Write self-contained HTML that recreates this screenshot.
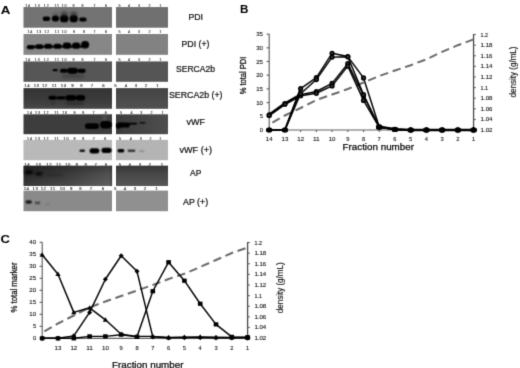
<!DOCTYPE html><html><head><meta charset="utf-8"><title>Figure</title>
<style>html,body{margin:0;padding:0;background:#fff;}body{width:520px;height:368px;overflow:hidden;}svg{display:block;font-family:"Liberation Sans",sans-serif;}</style></head><body>
<svg width="520" height="368" viewBox="0 0 520 368">
<defs>
<filter id="b1" filterUnits="userSpaceOnUse" x="0" y="0" width="520" height="368" color-interpolation-filters="sRGB"><feConvolveMatrix order="3" kernelMatrix="1 2 1 2 4 2 1 2 1" divisor="16" edgeMode="none" preserveAlpha="false"/></filter>
<filter id="b2" x="-40%" y="-80%" width="180%" height="260%"><feGaussianBlur stdDeviation="1.3"/></filter>
<filter id="bl" filterUnits="userSpaceOnUse" x="0" y="0" width="520" height="368" color-interpolation-filters="sRGB"><feConvolveMatrix order="3" kernelMatrix="0 1 0 1 4 1 0 1 0" divisor="8" edgeMode="none" preserveAlpha="false"/></filter>
<filter id="bt" filterUnits="userSpaceOnUse" x="0" y="0" width="520" height="368" color-interpolation-filters="sRGB"><feConvolveMatrix order="3" kernelMatrix="0 1 0 1 4 1 0 1 0" divisor="8" edgeMode="none" preserveAlpha="false"/></filter>
<filter id="bp" filterUnits="userSpaceOnUse" x="0" y="0" width="520" height="368" color-interpolation-filters="sRGB"><feConvolveMatrix order="3" kernelMatrix="0 1 0 1 4 1 0 1 0" divisor="8" edgeMode="none" preserveAlpha="false"/></filter>
<filter id="bc" filterUnits="userSpaceOnUse" x="0" y="0" width="520" height="368" color-interpolation-filters="sRGB"><feConvolveMatrix order="3" kernelMatrix="0 1 0 1 4 1 0 1 0" divisor="8" edgeMode="none" preserveAlpha="false"/></filter>
<linearGradient id="g4" x1="0" x2="0" y1="0" y2="1"><stop offset="0" stop-color="#343434"/><stop offset="0.6" stop-color="#3c3c3c"/><stop offset="1" stop-color="#494949"/></linearGradient>
<linearGradient id="g4r" x1="0" x2="0" y1="0" y2="1"><stop offset="0" stop-color="#444"/><stop offset="1" stop-color="#505050"/></linearGradient>
<linearGradient id="g5r" x1="0" x2="1" y1="0" y2="0"><stop offset="0" stop-color="#3c3c3c"/><stop offset="1" stop-color="#4e4e4e"/></linearGradient>
<linearGradient id="gv" x1="0" x2="0" y1="0" y2="1"><stop offset="0" stop-color="#000" stop-opacity="0.28"/><stop offset="0.45" stop-color="#000" stop-opacity="0.05"/><stop offset="1" stop-color="#fff" stop-opacity="0.07"/></linearGradient>
<linearGradient id="g7" x1="0" x2="1" y1="0" y2="0"><stop offset="0" stop-color="#2c2c2c"/><stop offset="0.5" stop-color="#3e3e3e"/><stop offset="1" stop-color="#585858"/></linearGradient>
</defs>
<rect width="520" height="368" fill="#fff"/>
<g filter="url(#bp)">
<rect x="23.5" y="7.05" width="88.5" height="20.65" fill="#737373"/>
<rect x="116" y="7.05" width="52" height="20.65" fill="#707070"/>
<rect x="23.5" y="34" width="88.5" height="20.799999999999997" fill="#878787"/>
<rect x="116" y="34" width="52" height="20.799999999999997" fill="#828282"/>
<rect x="23.5" y="61.4" width="88.5" height="20.4" fill="#565656"/>
<rect x="116" y="61.4" width="52" height="20.4" fill="#555555"/>
<rect x="23.5" y="88.1" width="88.5" height="20.700000000000003" fill="url(#g4)"/>
<rect x="116" y="88.1" width="52" height="20.700000000000003" fill="url(#g4r)"/>
<rect x="23.5" y="114.3" width="88.5" height="19.89999999999999" fill="#3d3d3d"/>
<rect x="116" y="114.3" width="52" height="19.89999999999999" fill="url(#g5r)"/>
<rect x="23.5" y="139.9" width="88.5" height="20.299999999999983" fill="#b9b9b9"/>
<rect x="116" y="139.9" width="52" height="20.299999999999983" fill="#b4b4b4"/>
<rect x="23.5" y="165.7" width="88.5" height="20.30000000000001" fill="url(#g7)"/>
<rect x="116" y="165.7" width="52" height="20.30000000000001" fill="#4c4c4c"/>
<rect x="23.5" y="190.6" width="88.5" height="20.599999999999994" fill="#8a8a8a"/>
<rect x="116" y="190.6" width="52" height="20.599999999999994" fill="#909090"/>
<rect x="23.5" y="165.7" width="88.5" height="20.3" fill="url(#gv)"/>
<rect x="116" y="165.7" width="52" height="20.3" fill="url(#gv)"/>
</g>
<g filter="url(#b1)">
<rect x="42.65" y="16.60" width="7.50" height="4.40" rx="2.20" ry="2.20" fill="#000" opacity="1"/>
<rect x="51.85" y="15.50" width="7.20" height="6.00" rx="3.00" ry="3.00" fill="#000" opacity="1"/>
<rect x="59.95" y="15.05" width="8.50" height="7.30" rx="3.65" ry="3.65" fill="#000" opacity="1"/>
<rect x="60.80" y="11.50" width="7.00" height="5.50" rx="2.75" ry="2.75" fill="#222" opacity="0.6" filter="url(#b2)"/>
<rect x="69.55" y="15.05" width="8.30" height="7.30" rx="3.65" ry="3.65" fill="#000" opacity="1"/>
<rect x="70.20" y="11.50" width="7.10" height="5.50" rx="2.75" ry="2.75" fill="#222" opacity="0.6" filter="url(#b2)"/>
<rect x="52.50" y="12.50" width="6.00" height="4.00" rx="2.00" ry="2.00" fill="#333" opacity="0.35" filter="url(#b2)"/>
<rect x="79.15" y="17.50" width="7.40" height="4.00" rx="2.00" ry="2.00" fill="#000" opacity="1"/>
<rect x="26.75" y="45.00" width="7.90" height="4.30" rx="2.15" ry="2.15" fill="#000" opacity="1"/>
<rect x="35.15" y="44.30" width="8.20" height="4.80" rx="2.40" ry="2.40" fill="#000" opacity="1"/>
<rect x="44.15" y="43.70" width="8.10" height="5.10" rx="2.55" ry="2.55" fill="#000" opacity="1"/>
<rect x="53.45" y="43.70" width="8.10" height="5.10" rx="2.55" ry="2.55" fill="#000" opacity="1"/>
<rect x="62.75" y="42.60" width="8.50" height="6.20" rx="3.10" ry="3.10" fill="#000" opacity="1"/>
<rect x="72.05" y="42.60" width="8.20" height="6.20" rx="3.10" ry="3.10" fill="#000" opacity="1"/>
<rect x="81.05" y="41.00" width="8.10" height="7.50" rx="3.75" ry="3.75" fill="#000" opacity="1"/>
<rect x="29.95" y="45.80" width="56.10" height="2.00" rx="1.00" ry="1.00" fill="#000" opacity="1"/>
<rect x="52.55" y="69.00" width="5.30" height="2.20" rx="1.10" ry="1.10" fill="#000" opacity="1"/>
<rect x="59.95" y="68.70" width="7.70" height="4.00" rx="2.00" ry="2.00" fill="#000" opacity="1"/>
<rect x="67.15" y="67.80" width="10.70" height="5.90" rx="2.95" ry="2.95" fill="#000" opacity="1"/>
<rect x="77.35" y="68.70" width="8.40" height="4.30" rx="2.15" ry="2.15" fill="#000" opacity="1"/>
<rect x="62.00" y="74.50" width="22.00" height="3.50" rx="1.75" ry="1.75" fill="#222" opacity="0.35" filter="url(#b2)"/>
<rect x="48.45" y="95.70" width="8.20" height="4.00" rx="2.00" ry="2.00" fill="#000" opacity="1"/>
<rect x="56.45" y="96.30" width="9.10" height="3.10" rx="1.55" ry="1.55" fill="#000" opacity="1"/>
<rect x="65.45" y="95.00" width="10.80" height="5.60" rx="2.80" ry="2.80" fill="#000" opacity="1"/>
<rect x="75.95" y="95.00" width="9.20" height="5.60" rx="2.80" ry="2.80" fill="#000" opacity="1"/>
<rect x="50.00" y="102.00" width="6.00" height="2.00" rx="1.00" ry="1.00" fill="#111" opacity="0.35" filter="url(#b2)"/>
<rect x="66.00" y="102.00" width="18.00" height="2.30" rx="1.15" ry="1.15" fill="#111" opacity="0.45" filter="url(#b2)"/>
<rect x="102.5" y="114.3" width="4" height="8" fill="#5a5a5a" opacity="0.6" filter="url(#b2)"/>
<rect x="84.95" y="123.20" width="14.10" height="5.70" rx="2.85" ry="2.85" fill="#000" opacity="1"/>
<rect x="100.15" y="121.10" width="11.50" height="7.40" rx="3.70" ry="3.70" fill="#000" opacity="1"/>
<rect x="116.25" y="122.40" width="13.60" height="5.10" rx="2.55" ry="2.55" fill="#000" opacity="1"/>
<rect x="116.25" y="124.00" width="4.80" height="4.80" rx="2.40" ry="2.40" fill="#000" opacity="1"/>
<rect x="127.95" y="122.80" width="9.10" height="1.80" rx="0.90" ry="0.90" fill="#000" opacity="1"/>
<rect x="139.45" y="122.00" width="6.10" height="1.50" rx="0.75" ry="0.75" fill="#000" opacity="0.85"/>
<rect x="79.45" y="149.50" width="5.60" height="2.60" rx="1.30" ry="1.30" fill="#000" opacity="0.9"/>
<rect x="89.55" y="148.20" width="9.80" height="5.20" rx="2.60" ry="2.60" fill="#000" opacity="1"/>
<rect x="101.45" y="147.80" width="10.20" height="5.10" rx="2.55" ry="2.55" fill="#000" opacity="1"/>
<rect x="117.45" y="149.00" width="6.90" height="3.40" rx="1.70" ry="1.70" fill="#000" opacity="1"/>
<rect x="127.65" y="149.50" width="7.70" height="2.60" rx="1.30" ry="1.30" fill="#222" opacity="0.85"/>
<rect x="138.95" y="150.00" width="5.70" height="2.20" rx="1.10" ry="1.10" fill="#555" opacity="0.3"/>
<rect x="25.00" y="170.30" width="8.00" height="3.90" rx="1.95" ry="1.95" fill="#000" opacity="0.95" filter="url(#b2)"/>
<rect x="35.20" y="172.00" width="7.60" height="3.50" rx="1.75" ry="1.75" fill="#000" opacity="0.85" filter="url(#b2)"/>
<rect x="46.00" y="174.00" width="16.00" height="2.00" rx="1.00" ry="1.00" fill="#000" opacity="0.25" filter="url(#b2)"/>
<rect x="110.5" y="165.7" width="1.5" height="20.3" fill="#1c1c1c" opacity="0.35"/>
<rect x="25.45" y="200.30" width="6.40" height="3.50" rx="1.75" ry="1.75" fill="#1a1a1a" opacity="0.95"/>
<rect x="34.75" y="201.60" width="5.60" height="2.60" rx="1.30" ry="1.30" fill="#333" opacity="0.7"/>
<rect x="44.95" y="203.50" width="5.10" height="2.00" rx="1.00" ry="1.00" fill="#444" opacity="0.2"/>
</g>
<g filter="url(#bl)">
<text x="28.03" y="6.50" font-size="3.6" text-anchor="middle" letter-spacing="0.85" fill="#2a2a2a" stroke="#2a2a2a" stroke-width="0.1">14</text>
<text x="37.72" y="6.50" font-size="3.6" text-anchor="middle" letter-spacing="0.85" fill="#2a2a2a" stroke="#2a2a2a" stroke-width="0.1">13</text>
<text x="46.72" y="6.50" font-size="3.6" text-anchor="middle" letter-spacing="0.85" fill="#2a2a2a" stroke="#2a2a2a" stroke-width="0.1">12</text>
<text x="57.12" y="6.50" font-size="3.6" text-anchor="middle" letter-spacing="0.85" fill="#2a2a2a" stroke="#2a2a2a" stroke-width="0.1">11</text>
<text x="64.62" y="6.50" font-size="3.6" text-anchor="middle" letter-spacing="0.85" fill="#2a2a2a" stroke="#2a2a2a" stroke-width="0.1">10</text>
<text x="73.50" y="6.50" font-size="3.6" text-anchor="middle" letter-spacing="0" fill="#2a2a2a" stroke="#2a2a2a" stroke-width="0.1">9</text>
<text x="82.50" y="6.50" font-size="3.6" text-anchor="middle" letter-spacing="0" fill="#2a2a2a" stroke="#2a2a2a" stroke-width="0.1">8</text>
<text x="94.50" y="6.50" font-size="3.6" text-anchor="middle" letter-spacing="0" fill="#2a2a2a" stroke="#2a2a2a" stroke-width="0.1">7</text>
<text x="106.00" y="6.50" font-size="3.6" text-anchor="middle" letter-spacing="0" fill="#2a2a2a" stroke="#2a2a2a" stroke-width="0.1">6</text>
<text x="119.50" y="6.50" font-size="3.6" text-anchor="middle" letter-spacing="0" fill="#2a2a2a" stroke="#2a2a2a" stroke-width="0.1">5</text>
<text x="129.00" y="6.50" font-size="3.6" text-anchor="middle" letter-spacing="0" fill="#2a2a2a" stroke="#2a2a2a" stroke-width="0.1">4</text>
<text x="139.00" y="6.50" font-size="3.6" text-anchor="middle" letter-spacing="0" fill="#2a2a2a" stroke="#2a2a2a" stroke-width="0.1">3</text>
<text x="149.50" y="6.50" font-size="3.6" text-anchor="middle" letter-spacing="0" fill="#2a2a2a" stroke="#2a2a2a" stroke-width="0.1">2</text>
<text x="160.50" y="6.50" font-size="3.6" text-anchor="middle" letter-spacing="0" fill="#2a2a2a" stroke="#2a2a2a" stroke-width="0.1">1</text>
<text x="30.32" y="33.30" font-size="3.6" text-anchor="middle" letter-spacing="0.85" fill="#2a2a2a" stroke="#2a2a2a" stroke-width="0.1">14</text>
<text x="39.32" y="33.30" font-size="3.6" text-anchor="middle" letter-spacing="0.85" fill="#2a2a2a" stroke="#2a2a2a" stroke-width="0.1">13</text>
<text x="47.22" y="33.30" font-size="3.6" text-anchor="middle" letter-spacing="0.85" fill="#2a2a2a" stroke="#2a2a2a" stroke-width="0.1">12</text>
<text x="57.42" y="33.30" font-size="3.6" text-anchor="middle" letter-spacing="0.85" fill="#2a2a2a" stroke="#2a2a2a" stroke-width="0.1">11</text>
<text x="64.62" y="33.30" font-size="3.6" text-anchor="middle" letter-spacing="0.85" fill="#2a2a2a" stroke="#2a2a2a" stroke-width="0.1">10</text>
<text x="74.00" y="33.30" font-size="3.6" text-anchor="middle" letter-spacing="0" fill="#2a2a2a" stroke="#2a2a2a" stroke-width="0.1">9</text>
<text x="84.00" y="33.30" font-size="3.6" text-anchor="middle" letter-spacing="0" fill="#2a2a2a" stroke="#2a2a2a" stroke-width="0.1">8</text>
<text x="94.50" y="33.30" font-size="3.6" text-anchor="middle" letter-spacing="0" fill="#2a2a2a" stroke="#2a2a2a" stroke-width="0.1">7</text>
<text x="106.00" y="33.30" font-size="3.6" text-anchor="middle" letter-spacing="0" fill="#2a2a2a" stroke="#2a2a2a" stroke-width="0.1">6</text>
<text x="119.50" y="33.30" font-size="3.6" text-anchor="middle" letter-spacing="0" fill="#2a2a2a" stroke="#2a2a2a" stroke-width="0.1">5</text>
<text x="129.00" y="33.30" font-size="3.6" text-anchor="middle" letter-spacing="0" fill="#2a2a2a" stroke="#2a2a2a" stroke-width="0.1">4</text>
<text x="139.00" y="33.30" font-size="3.6" text-anchor="middle" letter-spacing="0" fill="#2a2a2a" stroke="#2a2a2a" stroke-width="0.1">3</text>
<text x="149.50" y="33.30" font-size="3.6" text-anchor="middle" letter-spacing="0" fill="#2a2a2a" stroke="#2a2a2a" stroke-width="0.1">2</text>
<text x="160.50" y="33.30" font-size="3.6" text-anchor="middle" letter-spacing="0" fill="#2a2a2a" stroke="#2a2a2a" stroke-width="0.1">1</text>
<text x="28.03" y="60.90" font-size="3.6" text-anchor="middle" letter-spacing="0.85" fill="#2a2a2a" stroke="#2a2a2a" stroke-width="0.1">14</text>
<text x="37.72" y="60.90" font-size="3.6" text-anchor="middle" letter-spacing="0.85" fill="#2a2a2a" stroke="#2a2a2a" stroke-width="0.1">13</text>
<text x="46.72" y="60.90" font-size="3.6" text-anchor="middle" letter-spacing="0.85" fill="#2a2a2a" stroke="#2a2a2a" stroke-width="0.1">12</text>
<text x="57.12" y="60.90" font-size="3.6" text-anchor="middle" letter-spacing="0.85" fill="#2a2a2a" stroke="#2a2a2a" stroke-width="0.1">11</text>
<text x="64.62" y="60.90" font-size="3.6" text-anchor="middle" letter-spacing="0.85" fill="#2a2a2a" stroke="#2a2a2a" stroke-width="0.1">10</text>
<text x="73.50" y="60.90" font-size="3.6" text-anchor="middle" letter-spacing="0" fill="#2a2a2a" stroke="#2a2a2a" stroke-width="0.1">9</text>
<text x="82.50" y="60.90" font-size="3.6" text-anchor="middle" letter-spacing="0" fill="#2a2a2a" stroke="#2a2a2a" stroke-width="0.1">8</text>
<text x="94.50" y="60.90" font-size="3.6" text-anchor="middle" letter-spacing="0" fill="#2a2a2a" stroke="#2a2a2a" stroke-width="0.1">7</text>
<text x="106.00" y="60.90" font-size="3.6" text-anchor="middle" letter-spacing="0" fill="#2a2a2a" stroke="#2a2a2a" stroke-width="0.1">6</text>
<text x="119.50" y="60.90" font-size="3.6" text-anchor="middle" letter-spacing="0" fill="#2a2a2a" stroke="#2a2a2a" stroke-width="0.1">5</text>
<text x="129.00" y="60.90" font-size="3.6" text-anchor="middle" letter-spacing="0" fill="#2a2a2a" stroke="#2a2a2a" stroke-width="0.1">4</text>
<text x="139.00" y="60.90" font-size="3.6" text-anchor="middle" letter-spacing="0" fill="#2a2a2a" stroke="#2a2a2a" stroke-width="0.1">3</text>
<text x="149.50" y="60.90" font-size="3.6" text-anchor="middle" letter-spacing="0" fill="#2a2a2a" stroke="#2a2a2a" stroke-width="0.1">2</text>
<text x="160.50" y="60.90" font-size="3.6" text-anchor="middle" letter-spacing="0" fill="#2a2a2a" stroke="#2a2a2a" stroke-width="0.1">1</text>
<text x="27.15" y="86.85" font-size="4.3" text-anchor="middle" letter-spacing="0.5" fill="#1a1a1a" stroke="#1a1a1a" stroke-width="0.1">14</text>
<text x="36.55" y="86.85" font-size="4.3" text-anchor="middle" letter-spacing="0.5" fill="#1a1a1a" stroke="#1a1a1a" stroke-width="0.1">13</text>
<text x="44.85" y="86.85" font-size="4.3" text-anchor="middle" letter-spacing="0.5" fill="#1a1a1a" stroke="#1a1a1a" stroke-width="0.1">12</text>
<text x="54.45" y="86.85" font-size="4.3" text-anchor="middle" letter-spacing="0.5" fill="#1a1a1a" stroke="#1a1a1a" stroke-width="0.1">11</text>
<text x="63.75" y="86.85" font-size="4.3" text-anchor="middle" letter-spacing="0.5" fill="#1a1a1a" stroke="#1a1a1a" stroke-width="0.1">10</text>
<text x="72.50" y="86.85" font-size="4.3" text-anchor="middle" letter-spacing="0" fill="#1a1a1a" stroke="#1a1a1a" stroke-width="0.1">9</text>
<text x="81.50" y="86.85" font-size="4.3" text-anchor="middle" letter-spacing="0" fill="#1a1a1a" stroke="#1a1a1a" stroke-width="0.1">8</text>
<text x="92.00" y="86.85" font-size="4.3" text-anchor="middle" letter-spacing="0" fill="#1a1a1a" stroke="#1a1a1a" stroke-width="0.1">7</text>
<text x="103.50" y="86.85" font-size="4.3" text-anchor="middle" letter-spacing="0" fill="#1a1a1a" stroke="#1a1a1a" stroke-width="0.1">6</text>
<text x="115.50" y="86.85" font-size="4.3" text-anchor="middle" letter-spacing="0" fill="#1a1a1a" stroke="#1a1a1a" stroke-width="0.1">5</text>
<text x="126.00" y="86.85" font-size="4.3" text-anchor="middle" letter-spacing="0" fill="#1a1a1a" stroke="#1a1a1a" stroke-width="0.1">4</text>
<text x="136.00" y="86.85" font-size="4.3" text-anchor="middle" letter-spacing="0" fill="#1a1a1a" stroke="#1a1a1a" stroke-width="0.1">3</text>
<text x="146.00" y="86.85" font-size="4.3" text-anchor="middle" letter-spacing="0" fill="#1a1a1a" stroke="#1a1a1a" stroke-width="0.1">2</text>
<text x="157.50" y="86.85" font-size="4.3" text-anchor="middle" letter-spacing="0" fill="#1a1a1a" stroke="#1a1a1a" stroke-width="0.1">1</text>
<text x="29.93" y="113.80" font-size="3.6" text-anchor="middle" letter-spacing="0.85" fill="#1a1a1a" stroke="#1a1a1a" stroke-width="0.1">14</text>
<text x="37.92" y="113.80" font-size="3.6" text-anchor="middle" letter-spacing="0.85" fill="#1a1a1a" stroke="#1a1a1a" stroke-width="0.1">13</text>
<text x="46.42" y="113.80" font-size="3.6" text-anchor="middle" letter-spacing="0.85" fill="#1a1a1a" stroke="#1a1a1a" stroke-width="0.1">12</text>
<text x="56.92" y="113.80" font-size="3.6" text-anchor="middle" letter-spacing="0.85" fill="#1a1a1a" stroke="#1a1a1a" stroke-width="0.1">11</text>
<text x="65.02" y="113.80" font-size="3.6" text-anchor="middle" letter-spacing="0.85" fill="#1a1a1a" stroke="#1a1a1a" stroke-width="0.1">10</text>
<text x="74.40" y="113.80" font-size="3.6" text-anchor="middle" letter-spacing="0" fill="#1a1a1a" stroke="#1a1a1a" stroke-width="0.1">9</text>
<text x="83.30" y="113.80" font-size="3.6" text-anchor="middle" letter-spacing="0" fill="#1a1a1a" stroke="#1a1a1a" stroke-width="0.1">8</text>
<text x="93.40" y="113.80" font-size="3.6" text-anchor="middle" letter-spacing="0" fill="#1a1a1a" stroke="#1a1a1a" stroke-width="0.1">7</text>
<text x="105.70" y="113.80" font-size="3.6" text-anchor="middle" letter-spacing="0" fill="#1a1a1a" stroke="#1a1a1a" stroke-width="0.1">6</text>
<text x="121.00" y="113.80" font-size="3.6" text-anchor="middle" letter-spacing="0" fill="#1a1a1a" stroke="#1a1a1a" stroke-width="0.1">5</text>
<text x="131.50" y="113.80" font-size="3.6" text-anchor="middle" letter-spacing="0" fill="#1a1a1a" stroke="#1a1a1a" stroke-width="0.1">4</text>
<text x="141.20" y="113.80" font-size="3.6" text-anchor="middle" letter-spacing="0" fill="#1a1a1a" stroke="#1a1a1a" stroke-width="0.1">3</text>
<text x="151.40" y="113.80" font-size="3.6" text-anchor="middle" letter-spacing="0" fill="#1a1a1a" stroke="#1a1a1a" stroke-width="0.1">2</text>
<text x="162.80" y="113.80" font-size="3.6" text-anchor="middle" letter-spacing="0" fill="#1a1a1a" stroke="#1a1a1a" stroke-width="0.1">1</text>
<text x="29.93" y="139.80" font-size="3.6" text-anchor="middle" letter-spacing="0.85" fill="#1a1a1a" stroke="#1a1a1a" stroke-width="0.1">14</text>
<text x="37.92" y="139.80" font-size="3.6" text-anchor="middle" letter-spacing="0.85" fill="#1a1a1a" stroke="#1a1a1a" stroke-width="0.1">13</text>
<text x="46.42" y="139.80" font-size="3.6" text-anchor="middle" letter-spacing="0.85" fill="#1a1a1a" stroke="#1a1a1a" stroke-width="0.1">12</text>
<text x="56.92" y="139.80" font-size="3.6" text-anchor="middle" letter-spacing="0.85" fill="#1a1a1a" stroke="#1a1a1a" stroke-width="0.1">11</text>
<text x="66.42" y="139.80" font-size="3.6" text-anchor="middle" letter-spacing="0.85" fill="#1a1a1a" stroke="#1a1a1a" stroke-width="0.1">10</text>
<text x="74.40" y="139.80" font-size="3.6" text-anchor="middle" letter-spacing="0" fill="#1a1a1a" stroke="#1a1a1a" stroke-width="0.1">9</text>
<text x="83.30" y="139.80" font-size="3.6" text-anchor="middle" letter-spacing="0" fill="#1a1a1a" stroke="#1a1a1a" stroke-width="0.1">8</text>
<text x="93.80" y="139.80" font-size="3.6" text-anchor="middle" letter-spacing="0" fill="#1a1a1a" stroke="#1a1a1a" stroke-width="0.1">7</text>
<text x="105.30" y="139.80" font-size="3.6" text-anchor="middle" letter-spacing="0" fill="#1a1a1a" stroke="#1a1a1a" stroke-width="0.1">6</text>
<text x="120.00" y="139.80" font-size="3.6" text-anchor="middle" letter-spacing="0" fill="#1a1a1a" stroke="#1a1a1a" stroke-width="0.1">5</text>
<text x="130.70" y="139.80" font-size="3.6" text-anchor="middle" letter-spacing="0" fill="#1a1a1a" stroke="#1a1a1a" stroke-width="0.1">4</text>
<text x="140.80" y="139.80" font-size="3.6" text-anchor="middle" letter-spacing="0" fill="#1a1a1a" stroke="#1a1a1a" stroke-width="0.1">3</text>
<text x="150.50" y="139.80" font-size="3.6" text-anchor="middle" letter-spacing="0" fill="#1a1a1a" stroke="#1a1a1a" stroke-width="0.1">2</text>
<text x="160.30" y="139.80" font-size="3.6" text-anchor="middle" letter-spacing="0" fill="#1a1a1a" stroke="#1a1a1a" stroke-width="0.1">1</text>
<text x="27.35" y="165.75" font-size="4.3" text-anchor="middle" letter-spacing="0.5" fill="#1a1a1a" stroke="#1a1a1a" stroke-width="0.1">14</text>
<text x="38.55" y="165.75" font-size="4.3" text-anchor="middle" letter-spacing="0.5" fill="#1a1a1a" stroke="#1a1a1a" stroke-width="0.1">13</text>
<text x="49.25" y="165.75" font-size="4.3" text-anchor="middle" letter-spacing="0.5" fill="#1a1a1a" stroke="#1a1a1a" stroke-width="0.1">12</text>
<text x="58.85" y="165.75" font-size="4.3" text-anchor="middle" letter-spacing="0.5" fill="#1a1a1a" stroke="#1a1a1a" stroke-width="0.1">11</text>
<text x="68.05" y="165.75" font-size="4.3" text-anchor="middle" letter-spacing="0.5" fill="#1a1a1a" stroke="#1a1a1a" stroke-width="0.1">10</text>
<text x="76.70" y="165.75" font-size="4.3" text-anchor="middle" letter-spacing="0" fill="#1a1a1a" stroke="#1a1a1a" stroke-width="0.1">9</text>
<text x="85.60" y="165.75" font-size="4.3" text-anchor="middle" letter-spacing="0" fill="#1a1a1a" stroke="#1a1a1a" stroke-width="0.1">8</text>
<text x="95.70" y="165.75" font-size="4.3" text-anchor="middle" letter-spacing="0" fill="#1a1a1a" stroke="#1a1a1a" stroke-width="0.1">7</text>
<text x="105.90" y="165.75" font-size="4.3" text-anchor="middle" letter-spacing="0" fill="#1a1a1a" stroke="#1a1a1a" stroke-width="0.1">6</text>
<text x="120.00" y="165.75" font-size="4.3" text-anchor="middle" letter-spacing="0" fill="#1a1a1a" stroke="#1a1a1a" stroke-width="0.1">5</text>
<text x="129.80" y="165.75" font-size="4.3" text-anchor="middle" letter-spacing="0" fill="#1a1a1a" stroke="#1a1a1a" stroke-width="0.1">4</text>
<text x="140.00" y="165.75" font-size="4.3" text-anchor="middle" letter-spacing="0" fill="#1a1a1a" stroke="#1a1a1a" stroke-width="0.1">3</text>
<text x="149.70" y="165.75" font-size="4.3" text-anchor="middle" letter-spacing="0" fill="#1a1a1a" stroke="#1a1a1a" stroke-width="0.1">2</text>
<text x="162.00" y="165.75" font-size="4.3" text-anchor="middle" letter-spacing="0" fill="#1a1a1a" stroke="#1a1a1a" stroke-width="0.1">1</text>
<text x="26.55" y="190.05" font-size="4.3" text-anchor="middle" letter-spacing="0.5" fill="#1a1a1a" stroke="#1a1a1a" stroke-width="0.1">14</text>
<text x="35.45" y="190.05" font-size="4.3" text-anchor="middle" letter-spacing="0.5" fill="#1a1a1a" stroke="#1a1a1a" stroke-width="0.1">13</text>
<text x="43.55" y="190.05" font-size="4.3" text-anchor="middle" letter-spacing="0.5" fill="#1a1a1a" stroke="#1a1a1a" stroke-width="0.1">12</text>
<text x="52.85" y="190.05" font-size="4.3" text-anchor="middle" letter-spacing="0.5" fill="#1a1a1a" stroke="#1a1a1a" stroke-width="0.1">11</text>
<text x="62.55" y="190.05" font-size="4.3" text-anchor="middle" letter-spacing="0.5" fill="#1a1a1a" stroke="#1a1a1a" stroke-width="0.1">10</text>
<text x="71.20" y="190.05" font-size="4.3" text-anchor="middle" letter-spacing="0" fill="#1a1a1a" stroke="#1a1a1a" stroke-width="0.1">9</text>
<text x="80.50" y="190.05" font-size="4.3" text-anchor="middle" letter-spacing="0" fill="#1a1a1a" stroke="#1a1a1a" stroke-width="0.1">8</text>
<text x="91.00" y="190.05" font-size="4.3" text-anchor="middle" letter-spacing="0" fill="#1a1a1a" stroke="#1a1a1a" stroke-width="0.1">7</text>
<text x="103.00" y="190.05" font-size="4.3" text-anchor="middle" letter-spacing="0" fill="#1a1a1a" stroke="#1a1a1a" stroke-width="0.1">6</text>
<text x="115.20" y="190.05" font-size="4.3" text-anchor="middle" letter-spacing="0" fill="#1a1a1a" stroke="#1a1a1a" stroke-width="0.1">5</text>
<text x="125.00" y="190.05" font-size="4.3" text-anchor="middle" letter-spacing="0" fill="#1a1a1a" stroke="#1a1a1a" stroke-width="0.1">4</text>
<text x="135.00" y="190.05" font-size="4.3" text-anchor="middle" letter-spacing="0" fill="#1a1a1a" stroke="#1a1a1a" stroke-width="0.1">3</text>
<text x="145.00" y="190.05" font-size="4.3" text-anchor="middle" letter-spacing="0" fill="#1a1a1a" stroke="#1a1a1a" stroke-width="0.1">2</text>
<text x="156.50" y="190.05" font-size="4.3" text-anchor="middle" letter-spacing="0" fill="#1a1a1a" stroke="#1a1a1a" stroke-width="0.1">1</text>
</g>
<g filter="url(#bt)">
<text x="188.5" y="19.99" font-size="8.3" textLength="14.5" lengthAdjust="spacingAndGlyphs" fill="#111" stroke="#111" stroke-width="0.22">PDI</text>
<text x="181.5" y="46.69" font-size="8.3" textLength="28.0" lengthAdjust="spacingAndGlyphs" fill="#111" stroke="#111" stroke-width="0.22">PDI (+)</text>
<text x="176" y="71.69" font-size="8.3" textLength="39" lengthAdjust="spacingAndGlyphs" fill="#111" stroke="#111" stroke-width="0.22">SERCA2b</text>
<text x="169" y="98.19" font-size="8.3" textLength="53.5" lengthAdjust="spacingAndGlyphs" fill="#111" stroke="#111" stroke-width="0.22">SERCA2b (+)</text>
<text x="186.5" y="124.69" font-size="8.3" textLength="18.5" lengthAdjust="spacingAndGlyphs" fill="#111" stroke="#111" stroke-width="0.22">vWF</text>
<text x="179.5" y="153.19" font-size="8.3" textLength="32.5" lengthAdjust="spacingAndGlyphs" fill="#111" stroke="#111" stroke-width="0.22">vWF (+)</text>
<text x="190" y="176.19" font-size="8.3" textLength="11.300000000000011" lengthAdjust="spacingAndGlyphs" fill="#111" stroke="#111" stroke-width="0.22">AP</text>
<text x="183" y="204.69" font-size="8.3" textLength="25.19999999999999" lengthAdjust="spacingAndGlyphs" fill="#111" stroke="#111" stroke-width="0.22">AP (+)</text>
<text x="0.8" y="13.5" font-size="11.6" font-weight="bold" textLength="9.6" lengthAdjust="spacingAndGlyphs" fill="#000">A</text>
<text x="240.0" y="12.9" font-size="11.6" font-weight="bold" textLength="8.4" lengthAdjust="spacingAndGlyphs" fill="#000">B</text>
<text x="0.4" y="242.5" font-size="11.6" font-weight="bold" textLength="9.5" lengthAdjust="spacingAndGlyphs" fill="#000">C</text>
</g>
<g filter="url(#bc)">
<g stroke="#606060" stroke-width="1.15" fill="none">
<line x1="269.2" y1="34.10000000000001" x2="269.2" y2="130.0"/>
<line x1="269.2" y1="130.0" x2="473.56" y2="130.0"/>
<line x1="473.56" y1="34" x2="473.56" y2="130.0" stroke="#4a4a4a" stroke-width="1.3"/>
<line x1="266.59999999999997" y1="130.00" x2="269.2" y2="130.00"/>
<line x1="266.59999999999997" y1="116.30" x2="269.2" y2="116.30"/>
<line x1="266.59999999999997" y1="102.60" x2="269.2" y2="102.60"/>
<line x1="266.59999999999997" y1="88.90" x2="269.2" y2="88.90"/>
<line x1="266.59999999999997" y1="75.20" x2="269.2" y2="75.20"/>
<line x1="266.59999999999997" y1="61.50" x2="269.2" y2="61.50"/>
<line x1="266.59999999999997" y1="47.80" x2="269.2" y2="47.80"/>
<line x1="266.59999999999997" y1="34.10" x2="269.2" y2="34.10"/>
<line x1="473.56" y1="130.0" x2="473.56" y2="132.0"/>
<line x1="457.84" y1="130.0" x2="457.84" y2="132.0"/>
<line x1="442.12" y1="130.0" x2="442.12" y2="132.0"/>
<line x1="426.40" y1="130.0" x2="426.40" y2="132.0"/>
<line x1="410.68" y1="130.0" x2="410.68" y2="132.0"/>
<line x1="394.96" y1="130.0" x2="394.96" y2="132.0"/>
<line x1="379.24" y1="130.0" x2="379.24" y2="132.0"/>
<line x1="363.52" y1="130.0" x2="363.52" y2="132.0"/>
<line x1="347.80" y1="130.0" x2="347.80" y2="132.0"/>
<line x1="332.08" y1="130.0" x2="332.08" y2="132.0"/>
<line x1="316.36" y1="130.0" x2="316.36" y2="132.0"/>
<line x1="300.64" y1="130.0" x2="300.64" y2="132.0"/>
<line x1="284.92" y1="130.0" x2="284.92" y2="132.0"/>
<line x1="269.20" y1="130.0" x2="269.20" y2="132.0"/>
<line x1="473.56" y1="34.50" x2="475.76" y2="34.50"/>
<line x1="473.56" y1="45.12" x2="475.76" y2="45.12"/>
<line x1="473.56" y1="55.74" x2="475.76" y2="55.74"/>
<line x1="473.56" y1="66.36" x2="475.76" y2="66.36"/>
<line x1="473.56" y1="76.98" x2="475.76" y2="76.98"/>
<line x1="473.56" y1="87.60" x2="475.76" y2="87.60"/>
<line x1="473.56" y1="98.22" x2="475.76" y2="98.22"/>
<line x1="473.56" y1="108.84" x2="475.76" y2="108.84"/>
<line x1="473.56" y1="119.46" x2="475.76" y2="119.46"/>
<line x1="473.56" y1="130.08" x2="475.76" y2="130.08"/>
</g>
<text x="259.80" y="132.00" font-size="5.6" textLength="3.2" lengthAdjust="spacingAndGlyphs" fill="#161616" stroke="#161616" stroke-width="0.12">0</text>
<text x="259.80" y="118.30" font-size="5.6" textLength="3.2" lengthAdjust="spacingAndGlyphs" fill="#161616" stroke="#161616" stroke-width="0.12">5</text>
<text x="256.20" y="104.60" font-size="5.6" textLength="6.8" lengthAdjust="spacingAndGlyphs" fill="#161616" stroke="#161616" stroke-width="0.12">10</text>
<text x="256.20" y="90.90" font-size="5.6" textLength="6.8" lengthAdjust="spacingAndGlyphs" fill="#161616" stroke="#161616" stroke-width="0.12">15</text>
<text x="256.20" y="77.20" font-size="5.6" textLength="6.8" lengthAdjust="spacingAndGlyphs" fill="#161616" stroke="#161616" stroke-width="0.12">20</text>
<text x="256.20" y="63.50" font-size="5.6" textLength="6.8" lengthAdjust="spacingAndGlyphs" fill="#161616" stroke="#161616" stroke-width="0.12">25</text>
<text x="256.20" y="49.80" font-size="5.6" textLength="6.8" lengthAdjust="spacingAndGlyphs" fill="#161616" stroke="#161616" stroke-width="0.12">30</text>
<text x="256.20" y="36.10" font-size="5.6" textLength="6.8" lengthAdjust="spacingAndGlyphs" fill="#161616" stroke="#161616" stroke-width="0.12">35</text>
<text x="471.96" y="140.70" font-size="5.6" textLength="3.2" lengthAdjust="spacingAndGlyphs" fill="#1c1c1c" stroke="#1c1c1c" stroke-width="0.12">1</text>
<text x="456.24" y="140.70" font-size="5.6" textLength="3.2" lengthAdjust="spacingAndGlyphs" fill="#1c1c1c" stroke="#1c1c1c" stroke-width="0.12">2</text>
<text x="440.52" y="140.70" font-size="5.6" textLength="3.2" lengthAdjust="spacingAndGlyphs" fill="#1c1c1c" stroke="#1c1c1c" stroke-width="0.12">3</text>
<text x="424.80" y="140.70" font-size="5.6" textLength="3.2" lengthAdjust="spacingAndGlyphs" fill="#1c1c1c" stroke="#1c1c1c" stroke-width="0.12">4</text>
<text x="409.08" y="140.70" font-size="5.6" textLength="3.2" lengthAdjust="spacingAndGlyphs" fill="#1c1c1c" stroke="#1c1c1c" stroke-width="0.12">5</text>
<text x="393.36" y="140.70" font-size="5.6" textLength="3.2" lengthAdjust="spacingAndGlyphs" fill="#1c1c1c" stroke="#1c1c1c" stroke-width="0.12">6</text>
<text x="377.64" y="140.70" font-size="5.6" textLength="3.2" lengthAdjust="spacingAndGlyphs" fill="#1c1c1c" stroke="#1c1c1c" stroke-width="0.12">7</text>
<text x="361.92" y="140.70" font-size="5.6" textLength="3.2" lengthAdjust="spacingAndGlyphs" fill="#1c1c1c" stroke="#1c1c1c" stroke-width="0.12">8</text>
<text x="346.20" y="140.70" font-size="5.6" textLength="3.2" lengthAdjust="spacingAndGlyphs" fill="#1c1c1c" stroke="#1c1c1c" stroke-width="0.12">9</text>
<text x="328.68" y="140.70" font-size="5.6" textLength="6.8" lengthAdjust="spacingAndGlyphs" fill="#1c1c1c" stroke="#1c1c1c" stroke-width="0.12">10</text>
<text x="312.96" y="140.70" font-size="5.6" textLength="6.8" lengthAdjust="spacingAndGlyphs" fill="#1c1c1c" stroke="#1c1c1c" stroke-width="0.12">11</text>
<text x="297.24" y="140.70" font-size="5.6" textLength="6.8" lengthAdjust="spacingAndGlyphs" fill="#1c1c1c" stroke="#1c1c1c" stroke-width="0.12">12</text>
<text x="281.52" y="140.70" font-size="5.6" textLength="6.8" lengthAdjust="spacingAndGlyphs" fill="#1c1c1c" stroke="#1c1c1c" stroke-width="0.12">13</text>
<text x="265.80" y="140.70" font-size="5.6" textLength="6.8" lengthAdjust="spacingAndGlyphs" fill="#1c1c1c" stroke="#1c1c1c" stroke-width="0.12">14</text>
<text x="480.60" y="36.50" font-size="5.6" textLength="7.5" lengthAdjust="spacingAndGlyphs" fill="#161616" stroke="#161616" stroke-width="0.12">1.2</text>
<text x="480.60" y="47.12" font-size="5.6" textLength="11.8" lengthAdjust="spacingAndGlyphs" fill="#161616" stroke="#161616" stroke-width="0.12">1.18</text>
<text x="480.60" y="57.74" font-size="5.6" textLength="11.8" lengthAdjust="spacingAndGlyphs" fill="#161616" stroke="#161616" stroke-width="0.12">1.16</text>
<text x="480.60" y="68.36" font-size="5.6" textLength="11.8" lengthAdjust="spacingAndGlyphs" fill="#161616" stroke="#161616" stroke-width="0.12">1.14</text>
<text x="480.60" y="78.98" font-size="5.6" textLength="11.8" lengthAdjust="spacingAndGlyphs" fill="#161616" stroke="#161616" stroke-width="0.12">1.12</text>
<text x="480.60" y="89.60" font-size="5.6" textLength="7.5" lengthAdjust="spacingAndGlyphs" fill="#161616" stroke="#161616" stroke-width="0.12">1.1</text>
<text x="480.60" y="100.22" font-size="5.6" textLength="11.8" lengthAdjust="spacingAndGlyphs" fill="#161616" stroke="#161616" stroke-width="0.12">1.08</text>
<text x="480.60" y="110.84" font-size="5.6" textLength="11.8" lengthAdjust="spacingAndGlyphs" fill="#161616" stroke="#161616" stroke-width="0.12">1.06</text>
<text x="480.60" y="121.46" font-size="5.6" textLength="11.8" lengthAdjust="spacingAndGlyphs" fill="#161616" stroke="#161616" stroke-width="0.12">1.04</text>
<text x="480.60" y="132.08" font-size="5.6" textLength="11.8" lengthAdjust="spacingAndGlyphs" fill="#161616" stroke="#161616" stroke-width="0.12">1.02</text>
<text x="342.5" y="150" font-size="9" textLength="71.5" lengthAdjust="spacingAndGlyphs" fill="#0a0a0a" stroke="#0a0a0a" stroke-width="0.25">Fraction number</text>
<text transform="translate(246.2,75.5) rotate(-90)" x="-18.85" font-size="9.2" fill="#111" stroke="#111" stroke-width="0.3" textLength="37.7" lengthAdjust="spacingAndGlyphs">% total PDI</text>
<text transform="translate(516,72) rotate(-90)" x="-25.5" font-size="8.3" textLength="51" lengthAdjust="spacingAndGlyphs" fill="#111" stroke="#111" stroke-width="0.15">density (g/mL)</text>
<polyline points="269.20,124.5 284.92,115.5 300.64,108 316.36,100 332.08,94.5 347.80,89 363.52,82.5 379.24,76 394.96,70.5 410.68,65.2 426.40,59.3 442.12,51.8 457.84,45.2 473.56,39.4" fill="none" stroke="#6a6a6a" stroke-width="2.0" stroke-dasharray="8.4 4.7" stroke-dashoffset="9.4"/>
<g>
<polyline points="269.20,114.93 284.92,103.70 300.64,94.65 316.36,91.50 332.08,83.42 347.80,63.69 363.52,95.48 379.24,126.99 394.96,129.45 410.68,130.00 426.40,130.00 442.12,130.00 457.84,130.00 473.56,130.00" fill="none" stroke="#000" stroke-width="1.45" stroke-linejoin="round"/>
<polyline points="269.20,115.48 284.92,104.24 300.64,95.75 316.36,93.28 332.08,85.89 347.80,66.16 363.52,100.41 379.24,127.26 394.96,129.45 410.68,130.00 426.40,130.00 442.12,130.00 457.84,130.00 473.56,130.00" fill="none" stroke="#000" stroke-width="1.45" stroke-linejoin="round"/>
<polyline points="269.20,130.00 284.92,130.00 300.64,88.63 316.36,77.67 332.08,53.28 347.80,56.57 363.52,77.94 379.24,126.71 394.96,129.18 410.68,130.00 426.40,130.00 442.12,130.00 457.84,130.00 473.56,130.00" fill="none" stroke="#000" stroke-width="1.45" stroke-linejoin="round"/>
<polyline points="269.20,130.00 284.92,130.00 300.64,93.83 316.36,79.58 332.08,57.12 347.80,56.84 363.52,94.65 379.24,127.26 394.96,129.45 410.68,130.00 426.40,130.00 442.12,130.00 457.84,130.00 473.56,130.00" fill="none" stroke="#000" stroke-width="1.45" stroke-linejoin="round"/>
<polyline points="269.20,114.93 284.92,103.70 300.64,94.65" fill="none" stroke="#000" stroke-width="2.8" stroke-linejoin="round"/>
<polyline points="269.20,130.00 284.92,130.00 300.64,88.63" fill="none" stroke="#000" stroke-width="2.0" stroke-linejoin="round"/>
<polyline points="379.24,126.71 394.96,129.18 410.68,130.00 426.40,130.00 442.12,130.00 457.84,130.00 473.56,130.00" fill="none" stroke="#000" stroke-width="2.4" stroke-linejoin="round"/>
<circle cx="269.20" cy="114.93" r="1.85" fill="#3a3a3a" stroke="#000" stroke-width="1.5"/>
<circle cx="284.92" cy="103.70" r="1.85" fill="#3a3a3a" stroke="#000" stroke-width="1.5"/>
<circle cx="300.64" cy="94.65" r="1.85" fill="#3a3a3a" stroke="#000" stroke-width="1.5"/>
<circle cx="316.36" cy="91.50" r="1.85" fill="#3a3a3a" stroke="#000" stroke-width="1.5"/>
<circle cx="332.08" cy="83.42" r="1.85" fill="#3a3a3a" stroke="#000" stroke-width="1.5"/>
<circle cx="347.80" cy="63.69" r="1.85" fill="#3a3a3a" stroke="#000" stroke-width="1.5"/>
<circle cx="363.52" cy="95.48" r="1.85" fill="#3a3a3a" stroke="#000" stroke-width="1.5"/>
<ellipse cx="379.24" cy="126.99" rx="3.2" ry="2.5" fill="#000"/>
<ellipse cx="394.96" cy="129.45" rx="3.2" ry="2.5" fill="#000"/>
<ellipse cx="410.68" cy="130.00" rx="3.2" ry="2.5" fill="#000"/>
<ellipse cx="426.40" cy="130.00" rx="3.2" ry="2.5" fill="#000"/>
<ellipse cx="442.12" cy="130.00" rx="3.2" ry="2.5" fill="#000"/>
<ellipse cx="457.84" cy="130.00" rx="3.2" ry="2.5" fill="#000"/>
<ellipse cx="473.56" cy="130.00" rx="3.2" ry="2.5" fill="#000"/>
<circle cx="269.20" cy="115.48" r="1.85" fill="#3a3a3a" stroke="#000" stroke-width="1.5"/>
<circle cx="284.92" cy="104.24" r="1.85" fill="#3a3a3a" stroke="#000" stroke-width="1.5"/>
<circle cx="300.64" cy="95.75" r="1.85" fill="#3a3a3a" stroke="#000" stroke-width="1.5"/>
<circle cx="316.36" cy="93.28" r="1.85" fill="#3a3a3a" stroke="#000" stroke-width="1.5"/>
<circle cx="332.08" cy="85.89" r="1.85" fill="#3a3a3a" stroke="#000" stroke-width="1.5"/>
<circle cx="347.80" cy="66.16" r="1.85" fill="#3a3a3a" stroke="#000" stroke-width="1.5"/>
<circle cx="363.52" cy="100.41" r="1.85" fill="#3a3a3a" stroke="#000" stroke-width="1.5"/>
<ellipse cx="379.24" cy="127.26" rx="3.2" ry="2.5" fill="#000"/>
<ellipse cx="394.96" cy="129.45" rx="3.2" ry="2.5" fill="#000"/>
<ellipse cx="410.68" cy="130.00" rx="3.2" ry="2.5" fill="#000"/>
<ellipse cx="426.40" cy="130.00" rx="3.2" ry="2.5" fill="#000"/>
<ellipse cx="442.12" cy="130.00" rx="3.2" ry="2.5" fill="#000"/>
<ellipse cx="457.84" cy="130.00" rx="3.2" ry="2.5" fill="#000"/>
<ellipse cx="473.56" cy="130.00" rx="3.2" ry="2.5" fill="#000"/>
<ellipse cx="269.20" cy="130.00" rx="3.2" ry="2.5" fill="#000"/>
<ellipse cx="284.92" cy="130.00" rx="3.2" ry="2.5" fill="#000"/>
<circle cx="300.64" cy="88.63" r="1.85" fill="#3a3a3a" stroke="#000" stroke-width="1.5"/>
<circle cx="316.36" cy="77.67" r="1.85" fill="#3a3a3a" stroke="#000" stroke-width="1.5"/>
<circle cx="332.08" cy="53.28" r="1.85" fill="#3a3a3a" stroke="#000" stroke-width="1.5"/>
<circle cx="347.80" cy="56.57" r="1.85" fill="#3a3a3a" stroke="#000" stroke-width="1.5"/>
<circle cx="363.52" cy="77.94" r="1.85" fill="#3a3a3a" stroke="#000" stroke-width="1.5"/>
<ellipse cx="379.24" cy="126.71" rx="3.2" ry="2.5" fill="#000"/>
<ellipse cx="394.96" cy="129.18" rx="3.2" ry="2.5" fill="#000"/>
<ellipse cx="410.68" cy="130.00" rx="3.2" ry="2.5" fill="#000"/>
<ellipse cx="426.40" cy="130.00" rx="3.2" ry="2.5" fill="#000"/>
<ellipse cx="442.12" cy="130.00" rx="3.2" ry="2.5" fill="#000"/>
<ellipse cx="457.84" cy="130.00" rx="3.2" ry="2.5" fill="#000"/>
<ellipse cx="473.56" cy="130.00" rx="3.2" ry="2.5" fill="#000"/>
<ellipse cx="269.20" cy="130.00" rx="3.2" ry="2.5" fill="#000"/>
<ellipse cx="284.92" cy="130.00" rx="3.2" ry="2.5" fill="#000"/>
<circle cx="300.64" cy="93.83" r="1.85" fill="#3a3a3a" stroke="#000" stroke-width="1.5"/>
<circle cx="316.36" cy="79.58" r="1.85" fill="#3a3a3a" stroke="#000" stroke-width="1.5"/>
<circle cx="332.08" cy="57.12" r="1.85" fill="#3a3a3a" stroke="#000" stroke-width="1.5"/>
<circle cx="347.80" cy="56.84" r="1.85" fill="#3a3a3a" stroke="#000" stroke-width="1.5"/>
<circle cx="363.52" cy="94.65" r="1.85" fill="#3a3a3a" stroke="#000" stroke-width="1.5"/>
<ellipse cx="379.24" cy="127.26" rx="3.2" ry="2.5" fill="#000"/>
<ellipse cx="394.96" cy="129.45" rx="3.2" ry="2.5" fill="#000"/>
<ellipse cx="410.68" cy="130.00" rx="3.2" ry="2.5" fill="#000"/>
<ellipse cx="426.40" cy="130.00" rx="3.2" ry="2.5" fill="#000"/>
<ellipse cx="442.12" cy="130.00" rx="3.2" ry="2.5" fill="#000"/>
<ellipse cx="457.84" cy="130.00" rx="3.2" ry="2.5" fill="#000"/>
<ellipse cx="473.56" cy="130.00" rx="3.2" ry="2.5" fill="#000"/>
</g>
<g stroke="#606060" stroke-width="1.15" fill="none">
<line x1="42.2" y1="242.3" x2="42.2" y2="338.3"/>
<line x1="42.2" y1="338.3" x2="247.60000000000002" y2="338.3"/>
<line x1="247.60000000000002" y1="242" x2="247.60000000000002" y2="338.3" stroke="#4a4a4a" stroke-width="1.3"/>
<line x1="39.6" y1="338.30" x2="42.2" y2="338.30"/>
<line x1="39.6" y1="326.30" x2="42.2" y2="326.30"/>
<line x1="39.6" y1="314.30" x2="42.2" y2="314.30"/>
<line x1="39.6" y1="302.30" x2="42.2" y2="302.30"/>
<line x1="39.6" y1="290.30" x2="42.2" y2="290.30"/>
<line x1="39.6" y1="278.30" x2="42.2" y2="278.30"/>
<line x1="39.6" y1="266.30" x2="42.2" y2="266.30"/>
<line x1="39.6" y1="254.30" x2="42.2" y2="254.30"/>
<line x1="39.6" y1="242.30" x2="42.2" y2="242.30"/>
<line x1="247.60000000000002" y1="242.50" x2="249.8" y2="242.50"/>
<line x1="247.60000000000002" y1="253.12" x2="249.8" y2="253.12"/>
<line x1="247.60000000000002" y1="263.74" x2="249.8" y2="263.74"/>
<line x1="247.60000000000002" y1="274.36" x2="249.8" y2="274.36"/>
<line x1="247.60000000000002" y1="284.98" x2="249.8" y2="284.98"/>
<line x1="247.60000000000002" y1="295.60" x2="249.8" y2="295.60"/>
<line x1="247.60000000000002" y1="306.22" x2="249.8" y2="306.22"/>
<line x1="247.60000000000002" y1="316.84" x2="249.8" y2="316.84"/>
<line x1="247.60000000000002" y1="327.46" x2="249.8" y2="327.46"/>
<line x1="247.60000000000002" y1="338.08" x2="249.8" y2="338.08"/>
</g>
<text x="32.90" y="340.30" font-size="5.6" textLength="3.2" lengthAdjust="spacingAndGlyphs" fill="#161616" stroke="#161616" stroke-width="0.12">0</text>
<text x="32.90" y="328.30" font-size="5.6" textLength="3.2" lengthAdjust="spacingAndGlyphs" fill="#161616" stroke="#161616" stroke-width="0.12">5</text>
<text x="29.30" y="316.30" font-size="5.6" textLength="6.8" lengthAdjust="spacingAndGlyphs" fill="#161616" stroke="#161616" stroke-width="0.12">10</text>
<text x="29.30" y="304.30" font-size="5.6" textLength="6.8" lengthAdjust="spacingAndGlyphs" fill="#161616" stroke="#161616" stroke-width="0.12">15</text>
<text x="29.30" y="292.30" font-size="5.6" textLength="6.8" lengthAdjust="spacingAndGlyphs" fill="#161616" stroke="#161616" stroke-width="0.12">20</text>
<text x="29.30" y="280.30" font-size="5.6" textLength="6.8" lengthAdjust="spacingAndGlyphs" fill="#161616" stroke="#161616" stroke-width="0.12">25</text>
<text x="29.30" y="268.30" font-size="5.6" textLength="6.8" lengthAdjust="spacingAndGlyphs" fill="#161616" stroke="#161616" stroke-width="0.12">30</text>
<text x="29.30" y="256.30" font-size="5.6" textLength="6.8" lengthAdjust="spacingAndGlyphs" fill="#161616" stroke="#161616" stroke-width="0.12">35</text>
<text x="29.30" y="244.30" font-size="5.6" textLength="6.8" lengthAdjust="spacingAndGlyphs" fill="#161616" stroke="#161616" stroke-width="0.12">40</text>
<text x="246.00" y="349.60" font-size="5.6" textLength="3.2" lengthAdjust="spacingAndGlyphs" fill="#1c1c1c" stroke="#1c1c1c" stroke-width="0.12">1</text>
<text x="230.20" y="349.60" font-size="5.6" textLength="3.2" lengthAdjust="spacingAndGlyphs" fill="#1c1c1c" stroke="#1c1c1c" stroke-width="0.12">2</text>
<text x="214.40" y="349.60" font-size="5.6" textLength="3.2" lengthAdjust="spacingAndGlyphs" fill="#1c1c1c" stroke="#1c1c1c" stroke-width="0.12">3</text>
<text x="198.60" y="349.60" font-size="5.6" textLength="3.2" lengthAdjust="spacingAndGlyphs" fill="#1c1c1c" stroke="#1c1c1c" stroke-width="0.12">4</text>
<text x="182.80" y="349.60" font-size="5.6" textLength="3.2" lengthAdjust="spacingAndGlyphs" fill="#1c1c1c" stroke="#1c1c1c" stroke-width="0.12">5</text>
<text x="167.00" y="349.60" font-size="5.6" textLength="3.2" lengthAdjust="spacingAndGlyphs" fill="#1c1c1c" stroke="#1c1c1c" stroke-width="0.12">6</text>
<text x="151.20" y="349.60" font-size="5.6" textLength="3.2" lengthAdjust="spacingAndGlyphs" fill="#1c1c1c" stroke="#1c1c1c" stroke-width="0.12">7</text>
<text x="135.40" y="349.60" font-size="5.6" textLength="3.2" lengthAdjust="spacingAndGlyphs" fill="#1c1c1c" stroke="#1c1c1c" stroke-width="0.12">8</text>
<text x="119.60" y="349.60" font-size="5.6" textLength="3.2" lengthAdjust="spacingAndGlyphs" fill="#1c1c1c" stroke="#1c1c1c" stroke-width="0.12">9</text>
<text x="102.00" y="349.60" font-size="5.6" textLength="6.8" lengthAdjust="spacingAndGlyphs" fill="#1c1c1c" stroke="#1c1c1c" stroke-width="0.12">10</text>
<text x="86.20" y="349.60" font-size="5.6" textLength="6.8" lengthAdjust="spacingAndGlyphs" fill="#1c1c1c" stroke="#1c1c1c" stroke-width="0.12">11</text>
<text x="70.40" y="349.60" font-size="5.6" textLength="6.8" lengthAdjust="spacingAndGlyphs" fill="#1c1c1c" stroke="#1c1c1c" stroke-width="0.12">12</text>
<text x="54.60" y="349.60" font-size="5.6" textLength="6.8" lengthAdjust="spacingAndGlyphs" fill="#1c1c1c" stroke="#1c1c1c" stroke-width="0.12">13</text>
<text x="254.40" y="244.50" font-size="5.6" textLength="7.5" lengthAdjust="spacingAndGlyphs" fill="#161616" stroke="#161616" stroke-width="0.12">1.2</text>
<text x="254.40" y="255.12" font-size="5.6" textLength="11.8" lengthAdjust="spacingAndGlyphs" fill="#161616" stroke="#161616" stroke-width="0.12">1.18</text>
<text x="254.40" y="265.74" font-size="5.6" textLength="11.8" lengthAdjust="spacingAndGlyphs" fill="#161616" stroke="#161616" stroke-width="0.12">1.16</text>
<text x="254.40" y="276.36" font-size="5.6" textLength="11.8" lengthAdjust="spacingAndGlyphs" fill="#161616" stroke="#161616" stroke-width="0.12">1.14</text>
<text x="254.40" y="286.98" font-size="5.6" textLength="11.8" lengthAdjust="spacingAndGlyphs" fill="#161616" stroke="#161616" stroke-width="0.12">1.12</text>
<text x="254.40" y="297.60" font-size="5.6" textLength="7.5" lengthAdjust="spacingAndGlyphs" fill="#161616" stroke="#161616" stroke-width="0.12">1.1</text>
<text x="254.40" y="308.22" font-size="5.6" textLength="11.8" lengthAdjust="spacingAndGlyphs" fill="#161616" stroke="#161616" stroke-width="0.12">1.08</text>
<text x="254.40" y="318.84" font-size="5.6" textLength="11.8" lengthAdjust="spacingAndGlyphs" fill="#161616" stroke="#161616" stroke-width="0.12">1.06</text>
<text x="254.40" y="329.46" font-size="5.6" textLength="11.8" lengthAdjust="spacingAndGlyphs" fill="#161616" stroke="#161616" stroke-width="0.12">1.04</text>
<text x="254.40" y="340.08" font-size="5.6" textLength="11.8" lengthAdjust="spacingAndGlyphs" fill="#161616" stroke="#161616" stroke-width="0.12">1.02</text>
<text x="112" y="367.5" font-size="9" textLength="71.5" lengthAdjust="spacingAndGlyphs" fill="#0a0a0a" stroke="#0a0a0a" stroke-width="0.25">Fraction number</text>
<text transform="translate(17.2,287.5) rotate(-90)" x="-25" font-size="9.2" textLength="50" lengthAdjust="spacingAndGlyphs" fill="#111" stroke="#111" stroke-width="0.3">% total marker</text>
<text transform="translate(282.7,287.8) rotate(-90)" x="-25.5" font-size="8.3" textLength="51" lengthAdjust="spacingAndGlyphs" fill="#111" stroke="#111" stroke-width="0.15">density (g/mL)</text>
<polyline points="42.20,332.5 58.00,323.5 73.80,315.5 89.60,307.5 105.40,301.5 121.20,296 137.00,290.5 152.80,285 168.60,279 184.40,273.7 200.20,267 216.00,260 231.80,253 247.60,247.5" fill="none" stroke="#6a6a6a" stroke-width="2.0" stroke-dasharray="8.4 4.7" stroke-dashoffset="10.6"/>
<g>
<polyline points="42.20,254.78 58.00,274.22 73.80,312.38 89.60,307.82 105.40,319.82 121.20,334.22 137.00,336.38 152.80,336.38 168.60,337.58 184.40,337.10 200.20,336.86 216.00,337.34 231.80,337.58 247.60,337.58" fill="none" stroke="#000" stroke-width="1.45" stroke-linejoin="round"/>
<polyline points="42.20,338.30 58.00,338.30 73.80,335.90 89.60,312.38 105.40,279.26 121.20,255.74 137.00,271.34 152.80,336.86 168.60,337.82 184.40,337.58 200.20,337.58 216.00,337.82 231.80,337.82 247.60,337.82" fill="none" stroke="#000" stroke-width="1.45" stroke-linejoin="round"/>
<polyline points="42.20,338.30 58.00,338.30 73.80,338.30 89.60,336.38 105.40,336.38 121.20,334.70 137.00,336.86 152.80,291.26 168.60,262.22 184.40,280.70 200.20,303.74 216.00,324.38 231.80,336.86 247.60,337.34" fill="none" stroke="#000" stroke-width="1.45" stroke-linejoin="round"/>
<path d="M42.20,252.18 L44.80,256.68 L39.60,256.68 Z" fill="#000"/>
<path d="M58.00,271.62 L60.60,276.12 L55.40,276.12 Z" fill="#000"/>
<path d="M73.80,309.78 L76.40,314.28 L71.20,314.28 Z" fill="#000"/>
<path d="M89.60,305.22 L92.20,309.72 L87.00,309.72 Z" fill="#000"/>
<path d="M105.40,317.22 L108.00,321.72 L102.80,321.72 Z" fill="#000"/>
<path d="M121.20,331.62 L123.80,336.12 L118.60,336.12 Z" fill="#000"/>
<path d="M137.00,333.78 L139.60,338.28 L134.40,338.28 Z" fill="#000"/>
<path d="M152.80,333.78 L155.40,338.28 L150.20,338.28 Z" fill="#000"/>
<path d="M168.60,334.98 L171.20,339.48 L166.00,339.48 Z" fill="#000"/>
<path d="M184.40,334.50 L187.00,339.00 L181.80,339.00 Z" fill="#000"/>
<path d="M200.20,334.26 L202.80,338.76 L197.60,338.76 Z" fill="#000"/>
<path d="M216.00,334.74 L218.60,339.24 L213.40,339.24 Z" fill="#000"/>
<path d="M231.80,334.98 L234.40,339.48 L229.20,339.48 Z" fill="#000"/>
<path d="M247.60,334.98 L250.20,339.48 L245.00,339.48 Z" fill="#000"/>
<path d="M42.20,335.70 L44.70,338.30 L42.20,340.90 L39.70,338.30 Z" fill="#000"/>
<path d="M58.00,335.70 L60.50,338.30 L58.00,340.90 L55.50,338.30 Z" fill="#000"/>
<path d="M73.80,333.30 L76.30,335.90 L73.80,338.50 L71.30,335.90 Z" fill="#000"/>
<path d="M89.60,309.78 L92.10,312.38 L89.60,314.98 L87.10,312.38 Z" fill="#000"/>
<path d="M105.40,276.66 L107.90,279.26 L105.40,281.86 L102.90,279.26 Z" fill="#000"/>
<path d="M121.20,253.14 L123.70,255.74 L121.20,258.34 L118.70,255.74 Z" fill="#000"/>
<path d="M137.00,268.74 L139.50,271.34 L137.00,273.94 L134.50,271.34 Z" fill="#000"/>
<path d="M152.80,334.26 L155.30,336.86 L152.80,339.46 L150.30,336.86 Z" fill="#000"/>
<path d="M168.60,335.22 L171.10,337.82 L168.60,340.42 L166.10,337.82 Z" fill="#000"/>
<path d="M184.40,334.98 L186.90,337.58 L184.40,340.18 L181.90,337.58 Z" fill="#000"/>
<path d="M200.20,334.98 L202.70,337.58 L200.20,340.18 L197.70,337.58 Z" fill="#000"/>
<path d="M216.00,335.22 L218.50,337.82 L216.00,340.42 L213.50,337.82 Z" fill="#000"/>
<path d="M231.80,335.22 L234.30,337.82 L231.80,340.42 L229.30,337.82 Z" fill="#000"/>
<path d="M247.60,335.22 L250.10,337.82 L247.60,340.42 L245.10,337.82 Z" fill="#000"/>
<rect x="39.90" y="336.20" width="4.6" height="4.2" fill="#000"/>
<rect x="55.70" y="336.20" width="4.6" height="4.2" fill="#000"/>
<rect x="71.50" y="336.20" width="4.6" height="4.2" fill="#000"/>
<rect x="87.30" y="334.28" width="4.6" height="4.2" fill="#000"/>
<rect x="103.10" y="334.28" width="4.6" height="4.2" fill="#000"/>
<rect x="118.90" y="332.60" width="4.6" height="4.2" fill="#000"/>
<rect x="134.70" y="334.76" width="4.6" height="4.2" fill="#000"/>
<rect x="150.50" y="289.16" width="4.6" height="4.2" fill="#000"/>
<rect x="166.30" y="260.12" width="4.6" height="4.2" fill="#000"/>
<rect x="182.10" y="278.60" width="4.6" height="4.2" fill="#000"/>
<rect x="197.90" y="301.64" width="4.6" height="4.2" fill="#000"/>
<rect x="213.70" y="322.28" width="4.6" height="4.2" fill="#000"/>
<rect x="229.50" y="334.76" width="4.6" height="4.2" fill="#000"/>
<rect x="245.30" y="335.24" width="4.6" height="4.2" fill="#000"/>
</g>
<circle cx="247.60" cy="337.58" r="2.7" fill="#000"/>
<circle cx="231.80" cy="337.34" r="2.3" fill="#000"/>
</g>
</svg></body></html>
